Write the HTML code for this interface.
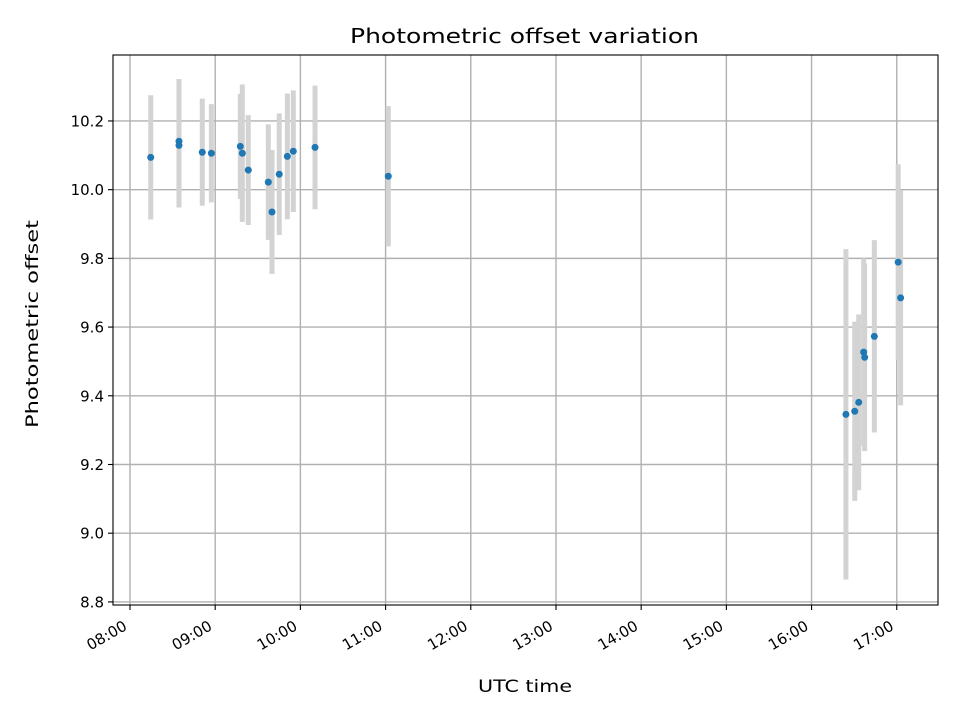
<!DOCTYPE html>
<html><head><meta charset="utf-8"><style>
html,body{margin:0;padding:0;background:#fff;}
svg{display:block;font-family:"DejaVu Sans","Liberation Sans",sans-serif;}
</style></head><body>
<svg id="chart" width="960" height="720" viewBox="0 0 960 720" xmlns="http://www.w3.org/2000/svg">
<rect x="0" y="0" width="960" height="720" fill="#fff"/>
<g id="grid"></g>
<g id="errs"></g>
<g id="pts"></g>
<rect x="113" y="55" width="825" height="550" fill="none" stroke="#000" stroke-width="1.1"/>
<g id="xticks"></g>
<g id="yticks"></g>
<text x="350" y="43" font-size="20" textLength="349" lengthAdjust="spacingAndGlyphs">Photometric offset variation</text>
<text x="478" y="692" font-size="16.5" textLength="94" lengthAdjust="spacingAndGlyphs">UTC time</text>
<text x="0" y="0" font-size="16.5" textLength="208" lengthAdjust="spacingAndGlyphs" transform="translate(38 428) rotate(-90)">Photometric offset</text>
</svg>
<script>
const times = ["08:14.6","08:34.5","08:34.5","08:50.9","08:57.3","09:17.7","09:19.1","09:23.3","09:37.4","09:40.0","09:45.1","09:50.8","09:55.0","10:10.3","11:01.9","16:24.2","16:30.4","16:33.2","16:36.7","16:37.4","16:44.2","17:01.0","17:02.7"];
const offsets = [10.094,10.141,10.129,10.109,10.106,10.126,10.106,10.057,10.022,9.935,10.045,10.097,10.112,10.123,10.039,9.346,9.355,9.381,9.527,9.512,9.573,9.789,9.685];
const errors = [0.181,0.181,0.181,0.156,0.143,0.153,0.2,0.16,0.168,0.18,0.177,0.183,0.177,0.18,0.204,0.481,0.261,0.256,0.273,0.273,0.28,0.285,0.313];
const xTickLabels = ["08:00","09:00","10:00","11:00","12:00","13:00","14:00","15:00","16:00","17:00"];
const yTickLabels = ["8.8","9.0","9.2","9.4","9.6","9.8","10.0","10.2"];

const NS="http://www.w3.org/2000/svg";
const L=113,R=938,T=55,B=605;
const xMin=7.8005,xMax=17.484,yMin=8.791,yMax=10.392;
function toHours(s){const p=s.split(":");return +p[0]+(+p[1])/60;}
function X(h){return L+(h-xMin)/(xMax-xMin)*(R-L);}
function Y(v){return B-(v-yMin)/(yMax-yMin)*(B-T);}
function mk(tag,attrs,parent){const e=document.createElementNS(NS,tag);for(const k in attrs)e.setAttribute(k,attrs[k]);parent.appendChild(e);return e;}
const grid=document.getElementById("grid"),xt=document.getElementById("xticks"),yt=document.getElementById("yticks");
xTickLabels.forEach(lab=>{
  const x=X(toHours(lab));
  const g=mk("line",{x1:x,x2:x,y1:T,y2:B,stroke:"#b0b0b0","stroke-width":1.4},grid);
  
  
  const t=mk("line",{x1:x,x2:x,y1:B,y2:B+5,stroke:"#000","stroke-width":1.1},xt);
  
  
  const ax=x-2,ay=B+24;
  const tx=mk("text",{x:ax,y:ay,"text-anchor":"end","font-size":15,transform:`rotate(-30 ${ax} ${ay})`},xt);
  
  
  tx.textContent=lab;
});
yTickLabels.forEach(lab=>{
  const y=Y(+lab);
  const g=mk("line",{x1:L,x2:R,y1:y,y2:y,stroke:"#b0b0b0","stroke-width":1.4},grid);
  
  
  const t=mk("line",{x1:L-5,x2:L,y1:y,y2:y,stroke:"#000","stroke-width":1.1},yt);
  
  
  const tx=mk("text",{x:L-9,y:y+5.5,"text-anchor":"end","font-size":15},yt);
  
  
  tx.textContent=lab;
});
const errs=document.getElementById("errs"),pts=document.getElementById("pts");
times.forEach((tm,i)=>{
  const x=X(toHours(tm));
  const e=mk("line",{x1:x,x2:x,y1:Y(offsets[i]+errors[i]),y2:Y(offsets[i]-errors[i]),stroke:"#d3d3d3","stroke-width":5},errs);
  
  
});
times.forEach((tm,i)=>{
  const c=mk("circle",{cx:X(toHours(tm)),cy:Y(offsets[i]),r:3.5,fill:"#1f77b4"},pts);
  
  
});
</script>
</body></html>
